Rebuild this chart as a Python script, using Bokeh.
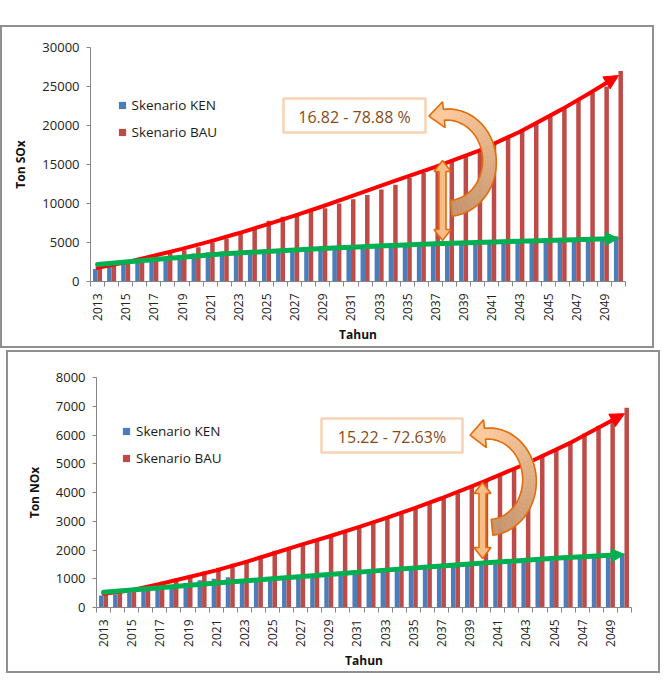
import numpy as np
from bokeh.plotting import figure
from bokeh.layouts import column
from bokeh.models import (ColumnDataSource, FixedTicker, Range1d, Legend, LegendItem,
                          Label, BoxAnnotation, Arrow, NormalHead)
from bokeh.transform import dodge
from bokeh.embed import file_html
from bokeh.resources import INLINE

# ---------------- data ----------------
years = list(range(2013, 2051))
label_years = list(range(2013, 2050, 2))

sox_ken = [1600, 2100, 2450, 2500, 2700, 2900, 3100, 3600, 3750, 3850,
           3750, 3850, 3700, 3800, 3850, 3950, 4000, 4100, 4200, 4250,
           4300, 4400, 4450, 4550, 4650, 4700, 4800, 4850, 4950, 5000,
           5050, 5150, 5200, 5250, 5300, 5400, 5450, 5800]
sox_bau = [1800, 2150, 2600, 2900, 3300, 3750, 4000, 4400, 5000, 5500,
           6100, 6950, 7800, 8300, 8650, 9050, 9400, 10000, 10550, 11100,
           11800, 12400, 13300, 13950, 14600, 15400, 16100, 16900, 17700, 18500,
           19500, 20400, 21300, 22300, 23200, 24200, 25000, 27000]
nox_ken = [420, 460, 520, 580, 660, 740, 850, 950, 1000, 1050,
           960, 990, 1010, 1040, 1070, 1100, 1130, 1160, 1190, 1220,
           1260, 1290, 1320, 1350, 1380, 1410, 1440, 1470, 1510, 1540,
           1570, 1600, 1630, 1660, 1700, 1740, 1780, 1880]
nox_bau = [450, 520, 640, 760, 900, 1020, 1100, 1250, 1380, 1520,
           1640, 1800, 1970, 2080, 2220, 2330, 2450, 2600, 2780, 2950,
           3100, 3270, 3450, 3620, 3800, 3970, 4220, 4400, 4620, 4810,
           5040, 5280, 5500, 5770, 6050, 6320, 6560, 6950]

# hand-drawn trend arrows (knots)
sox_bau_trend_years = [2013, 2015, 2017, 2019, 2021, 2023, 2025, 2027, 2029, 2031, 2034, 2037, 2040, 2043, 2046, 2048, 2050]
sox_bau_trend = [1750, 2450, 3300, 4180, 5150, 6180, 7300, 8450, 9650, 10900, 12850, 14700, 16700, 19200, 22100, 24200, 26400]
sox_ken_trend_years = [2013, 2016, 2019, 2022, 2025, 2029, 2033, 2037, 2043, 2050]
sox_ken_trend = [2180, 2650, 3120, 3550, 3850, 4230, 4550, 4830, 5170, 5510]
nox_bau_trend_years = [2013, 2015, 2017, 2019, 2021, 2023, 2025, 2027, 2029, 2031, 2033, 2035, 2037, 2040, 2043, 2046, 2050]
nox_bau_trend = [475, 600, 820, 1050, 1290, 1570, 1870, 2180, 2470, 2780, 3100, 3440, 3800, 4380, 5000, 5690, 6740]
nox_ken_trend_years = [2013, 2017, 2021, 2025, 2029, 2033, 2037, 2041, 2045, 2050]
nox_ken_trend = [533, 690, 850, 1000, 1150, 1300, 1440, 1580, 1710, 1843]

series_names = ["Skenario KEN", "Skenario BAU"]

# ---------------- style ----------------
FONT = "Open Sans"
BLUE = "#4A7EBB"
RED = "#BE4B48"
ORANGE = "#E46C0A"
AXIS = "#868686"
FRAME_W = 535
X0, X1 = 2012.5, 2050.5


def build(ken, bau, ymax, ystep, ylabel, btx, bty, ktx, kty, pct,
          frame_top, frame_h, leg, box, arc, dbl):
    H = 323
    p = figure(width=654, height=H, x_range=Range1d(X0, X1), y_range=Range1d(0, ymax),
               min_border_left=88, min_border_right=31, min_border_top=frame_top,
               min_border_bottom=H - frame_top - frame_h,
               output_backend="svg", toolbar_location=None)
    p.outline_line_color = None
    p.xgrid.visible = False
    p.ygrid.visible = False
    p.background_fill_color = "white"
    p.border_fill_color = "white"

    def cx(fx):
        return X0 + np.asarray(fx) * (X1 - X0) / FRAME_W

    def cy(fy):
        return ymax * (1 - np.asarray(fy) / frame_h)

    src = ColumnDataSource(dict(year=years, ken=ken, bau=bau))
    p.vbar(x=dodge("year", -0.16, range=p.x_range), top="ken", width=0.32,
           fill_color=BLUE, line_color=None, source=src)
    p.vbar(x=dodge("year", 0.16, range=p.x_range), top="bau", width=0.32,
           fill_color=RED, line_color=None, source=src)

    # trend arrows
    p.line(btx[:-1], bty[:-1], line_color="#FF0000", line_width=4, line_join="round", line_cap="round")
    p.add_layout(Arrow(x_start=btx[-2], y_start=bty[-2], x_end=btx[-1], y_end=bty[-1],
                       line_color="#FF0000", line_width=4,
                       end=NormalHead(size=14, fill_color="#FF0000", line_color="#FF0000")))
    p.line(ktx[:-1], kty[:-1], line_color="#00B050", line_width=5, line_join="round", line_cap="round")
    p.add_layout(Arrow(x_start=ktx[-2], y_start=kty[-2], x_end=ktx[-1], y_end=kty[-1],
                       line_color="#00B050", line_width=5,
                       end=NormalHead(size=13, fill_color="#00B050", line_color="#00B050")))

    # curved arrow (gradient band)
    acx, acy, rx, ry, th0, th1, w_tail, w_head, hh, hl = arc
    n = 36
    th = np.radians(np.linspace(th0, th1, n))
    px = acx + rx * np.cos(th)
    py = acy - ry * np.sin(th)
    tx = -rx * np.sin(th)
    ty = -ry * np.cos(th)
    nr = np.hypot(tx, ty)
    tx, ty = tx / nr, ty / nr
    nx, ny = -ty, tx
    w = np.linspace(w_tail, w_head, n)
    ox, oy = px + w * nx, py + w * ny
    ix, iy = px - w * nx, py - w * ny
    c_tail = np.array([0xC6, 0x94, 0x6C])
    c_head = np.array([0xFB, 0xC9, 0x9C])
    qxs, qys, cols = [], [], []
    for i in range(n - 1):
        t = i / (n - 2)
        c = (c_tail * (1 - t) + c_head * t).astype(int)
        cols.append("#%02x%02x%02x" % tuple(c))
        qxs.append(list(cx([ox[i], ox[i + 1], ix[i + 1], ix[i]])))
        qys.append(list(cy([oy[i], oy[i + 1], iy[i + 1], iy[i]])))
    ex, ey = px[-1], py[-1]
    hb1 = (ex + hh * nx[-1], ey + hh * ny[-1])
    hb2 = (ex - hh * nx[-1], ey - hh * ny[-1])
    tip = (ex + hl * tx[-1], ey + hl * ty[-1])
    qxs.append(list(cx([hb1[0], tip[0], hb2[0]])))
    qys.append(list(cy([hb1[1], tip[1], hb2[1]])))
    cols.append("#%02x%02x%02x" % tuple(c_head))
    p.patches(qxs, qys, fill_color=cols, line_color=cols, line_width=0.6)
    outx = list(ox) + [hb1[0], tip[0], hb2[0]] + list(ix[::-1])
    outy = list(oy) + [hb1[1], tip[1], hb2[1]] + list(iy[::-1])
    p.patch(list(cx(outx)), list(cy(outy)), fill_alpha=0, line_color=ORANGE, line_width=1.6)

    # double-headed vertical arrow
    fx, ft, fb = dbl
    sw, hw, hln = 3.5, 8.5, 11
    dx = [fx, fx + hw, fx + sw, fx + sw, fx + hw, fx, fx - hw, fx - sw, fx - sw, fx - hw]
    dy = [ft, ft + hln, ft + hln, fb - hln, fb - hln, fb, fb - hln, fb - hln, ft + hln, ft + hln]
    p.patch(list(cx(dx)), list(cy(dy)), fill_color="#F9BD8A", line_color=ORANGE, line_width=1.6)

    # percentage box
    bl, br, bt, bb = box
    p.add_layout(BoxAnnotation(left=float(cx(bl)), right=float(cx(br)),
                               top=float(cy(bt)), bottom=float(cy(bb)),
                               fill_color="white", fill_alpha=1,
                               line_color=ORANGE, line_width=2.6))
    p.add_layout(Label(x=float(cx((bl + br) / 2)), y=float(cy((bt + bb) / 2 + 1)), text=pct,
                       text_align="center", text_baseline="middle",
                       text_font=FONT, text_font_size="16px", text_color="#8A4A17"))

    # legend (size-0 markers: only their legend swatches show)
    r1 = p.scatter(x="year", y="ken", source=src, size=0, marker="square",
                   fill_color=BLUE, line_color=None)
    r2 = p.scatter(x="year", y="bau", source=src, size=0, marker="square",
                   fill_color=RED, line_color=None)
    lx, ly = leg
    legend = Legend(items=[LegendItem(label=series_names[0], renderers=[r1]),
                           LegendItem(label=series_names[1], renderers=[r2])],
                    location=(lx, ly), orientation="vertical",
                    glyph_width=18, glyph_height=20, label_height=20, label_standoff=1,
                    spacing=7, padding=0, margin=0, border_line_color=None,
                    background_fill_alpha=0,
                    label_text_font=FONT, label_text_font_size="13.5px",
                    label_text_color="#1a1a1a")
    p.add_layout(legend)

    # axes
    yax = p.yaxis[0]
    yax.ticker = FixedTicker(ticks=list(range(0, ymax + 1, ystep)))
    yax.axis_line_color = AXIS
    yax.major_tick_line_color = AXIS
    yax.major_tick_in = 0
    yax.major_tick_out = 4
    yax.minor_tick_line_color = None
    yax.major_label_standoff = 7
    yax.major_label_text_font = FONT
    yax.major_label_text_font_size = "13px"
    yax.major_label_text_color = "#222222"
    yax.axis_label = ylabel
    yax.axis_label_text_font = FONT
    yax.axis_label_text_font_size = "12px"
    yax.axis_label_text_font_style = "bold"
    yax.axis_label_text_color = "#111111"
    yax.axis_label_standoff = 10

    xax = p.xaxis[0]
    xax.ticker = FixedTicker(ticks=label_years, minor_ticks=[y - 0.5 for y in years] + [years[-1] + 0.5])
    xax.axis_line_color = AXIS
    xax.major_tick_line_color = None
    xax.major_tick_in = 0
    xax.major_tick_out = 0
    xax.minor_tick_line_color = AXIS
    xax.minor_tick_in = 0
    xax.minor_tick_out = 5
    xax.major_label_orientation = np.pi / 2
    xax.major_label_standoff = 7
    xax.major_label_text_font = FONT
    xax.major_label_text_font_size = "12px"
    xax.major_label_text_color = "#222222"
    xax.axis_label = "Tahun"
    xax.axis_label_text_font = FONT
    xax.axis_label_text_font_size = "12px"
    xax.axis_label_text_font_style = "bold"
    xax.axis_label_text_color = "#111111"
    xax.axis_label_standoff = 2
    return p


p1 = build(sox_ken, sox_bau, 30000, 5000, "Ton SOx",
           sox_bau_trend_years, sox_bau_trend, sox_ken_trend_years, sox_ken_trend,
           "16.82 - 78.88 %", frame_top=20, frame_h=234,
           leg=(22.5, 139.5), box=(193, 335, 51, 85),
           arc=(357, 114, 42, 47, -85, 95, 8, 5.5, 13, 15), dbl=(352, 113, 193))
p2 = build(nox_ken, nox_bau, 8000, 1000, "Ton NOx",
           nox_bau_trend_years, nox_bau_trend, nox_ken_trend_years, nox_ken_trend,
           "15.22 - 72.63%", frame_top=25, frame_h=230,
           leg=(21, 139), box=(225, 366, 41, 75),
           arc=(392, 103, 41, 47, -85, 95, 8, 5.5, 14, 15), dbl=(386, 105, 181))

p1.margin = (25, 0, 0, 0)
p2.margin = (2, 0, 0, 6)
p1.styles = {"border": "2px solid #8f8f8f"}
p2.styles = {"border": "2px solid #8f8f8f"}

layout = column(p1, p2)
open("out.html", "w").write(file_html(layout, INLINE))
